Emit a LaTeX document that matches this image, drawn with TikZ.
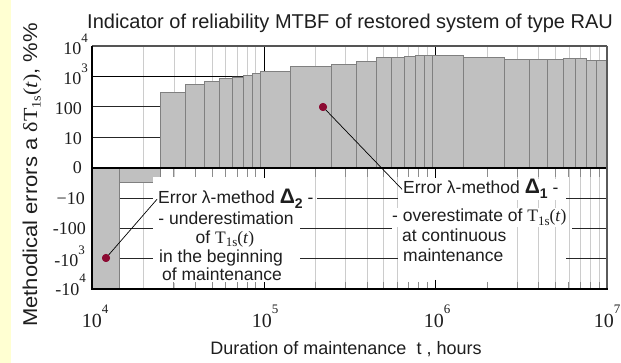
\documentclass[tikz,border=0pt]{standalone}
\usepackage{fontspec}
\setmainfont{Liberation Sans}
\newfontfamily\serif{Liberation Serif}
\newcommand{\fsz}[1]{\fontsize{#1}{#1}\selectfont}
\newcommand{\sups}[1]{\raisebox{0.7em}{\fsz{13}#1}}
\newcommand{\Tss}{{\serif T\raisebox{-3.5pt}{\fsz{13}1s}(\textit{t})}}
\definecolor{gridgray}{HTML}{CCCCCC}
\definecolor{bargray}{HTML}{C0C0C0}
\definecolor{baredge}{HTML}{808080}
\definecolor{tickgray}{HTML}{8C8C8C}
\definecolor{dotred}{HTML}{8C0A32}
\definecolor{ystrip}{HTML}{FFFFD2}
\definecolor{txt}{HTML}{1E1E1E}
\definecolor{topframe}{HTML}{555555}
\begin{document}
\begin{tikzpicture}[x=1pt,y=-1pt,
  grid/.style={draw=gridgray, line width=0.8pt},
  bar/.style={fill=bargray, draw=baredge, line width=0.9pt},
  hline/.style={draw=black!85, line width=1pt},
  tickm/.style={draw=tickgray, line width=0.9pt},
  tickd/.style={draw=black, line width=1pt},
  lbl/.style={font=\fsz{17.5}, inner sep=1pt, text=txt},
  wlbl/.style={lbl, fill=white},
  ylab/.style={font=\serif\fsz{18}, inner sep=0pt, anchor=base east, text=txt},
  xlab/.style={font=\serif\fsz{20}, inner sep=0pt, anchor=base, text=txt},
  dot/.style={circle, fill=dotred, inner sep=0pt, minimum size=8pt},
  conn/.style={draw=black, line width=0.7pt}]
\useasboundingbox (0,0) rectangle (621,363);
\fill[white] (0,0) rectangle (621,363);
\fill[ystrip] (0,0) rectangle (11,363);
% vertical gridlines
\foreach \d in {0,1,2}{\foreach \m in {2,...,9}{%
  \pgfmathsetmacro\xx{92+171.67*(\d+log10(\m))}
  \draw[grid] (\xx,46) -- (\xx,289);}}
% decade lines in the positive part
\draw[tickd] (264,46) -- (264,168);
\draw[tickd] (435,46) -- (435,168);
% horizontal lines, positive part
\foreach \yy in {77,107,138} \draw[hline] (92,\yy) -- (607,\yy);
% horizontal lines, negative part
\draw[hline] (92,199) -- (155,199) (317,199) -- (398,199) (566,199) -- (607,199);
\draw[hline] (92,229) -- (155,229) (300,229) -- (392,229) (572,229) -- (607,229);
\draw[hline] (92,259) -- (155,259) (300,259) -- (398,259) (566,259) -- (607,259);
% positive bars
\foreach \a/\b/\t in {160/185/92.7, 185/204.3/84.7, 204.3/219.3/81, 219.3/232/78.3,
  232/243.3/77, 243.3/252.7/75.7, 252.7/260/73, 260/290.3/71.3, 290.3/331.7/66.7,
  331.7/356.7/64, 356.7/376/61, 376/391/57.7, 391/404/57, 404/415/56.3,
  415/424.3/55.7, 424.3/432.7/55.7, 432.7/463.3/55, 463.3/504/57.7,
  504/529.3/59, 529.3/547.3/59, 547.3/563.3/59, 563.3/575.3/58.7,
  575.3/586/58.7, 586/596/60.3, 596/607/60.3}
  \draw[bar] (\a,168) rectangle (\b,\t);
\draw[tickd] (92,77) -- (232,77);
% negative bars
\draw[bar] (92,168) rectangle (119,289);
\draw[bar] (119,168) rectangle (160,182);
% white areas behind the two notes
\fill[white] (153,177) rectangle (300,283);
\fill[white] (398,177) rectangle (505,283);
% ticks at the zero line and at the bottom
\foreach \d in {0,1,2}{\foreach \m in {2,...,9}{%
  \pgfmathsetmacro\xx{92+171.67*(\d+log10(\m))}
  \ifnum\d=0 \ifnum\m=2 \else \draw[tickm] (\xx,168) -- (\xx,177); \draw[tickm] (\xx,282) -- (\xx,289);\fi
  \else \draw[tickm] (\xx,168) -- (\xx,177); \draw[tickm] (\xx,282) -- (\xx,289);\fi}}
\draw[tickd] (264,168) -- (264,178) (264,280) -- (264,289);
\draw[tickd] (435,168) -- (435,178) (435,280) -- (435,289);
% zero line and frame
\draw[black, line width=1.6pt] (92,168) -- (607,168);
\draw[topframe, line width=1.4pt] (92,46) -- (607,46);
\draw[baredge!70!black, line width=1.2pt] (607,46) -- (607,289);
\draw[black, line width=1.5pt] (92,46) -- (92,289.7);
\draw[black, line width=1.5pt] (91.3,289) -- (607.6,289);
% note 1
\node[wlbl, anchor=base west] (b1l1) at (157,204) {Error λ-method {\bfseries\fsz{21}Δ\raisebox{-5pt}{\fsz{14}2}} -};
\node[wlbl, anchor=base] (b1l2) at (226,225) {- underestimation};
\node[wlbl, anchor=base] (b1l3) at (225,243.5) {of \Tss};
\node[wlbl, anchor=base] (b1l4) at (221,263) {in the beginning};
\node[wlbl, anchor=base] (b1l5) at (222,280.5) {of maintenance};
% note 2
\node[wlbl, anchor=base west] (b2l1) at (402,194) {Error λ-method {\bfseries\fsz{21}Δ\raisebox{-5pt}{\fsz{14}1}} -};
\node[wlbl, anchor=base west] (b2l2) at (391,222) {- overestimate of \Tss};
\node[wlbl, anchor=base west] (b2l3) at (401,242) {at continuous};
\node[wlbl, anchor=base west] (b2l4) at (402,262) {maintenance};
% markers and leaders
\node[dot] (d1) at (323,107) {};
\node[dot] (d2) at (106,258) {};
\draw[conn] (d1.center) -- (b2l1.west);
\draw[conn] (d2.center) -- (b1l1.west);
\node[dot] at (d1) {};
\node[dot] at (d2) {};
% y tick labels
\node[ylab] (y4) at (88,55) {10\sups{4}};
\node[ylab] (y3) at (88,85) {10\sups{3}};
\node[ylab] (y2) at (82,115) {100};
\node[ylab] (y1) at (82,145) {10};
\node[ylab] (y0) at (82,174) {0};
\node[ylab] (ym1) at (85,205) {−10};
\node[ylab] (ym2) at (86,235) {-100};
\node[ylab] (ym3) at (85,267) {-10\sups{3}};
\node[ylab] (ym4) at (86,295) {-10\sups{4}};
% x tick labels
\node[xlab] (x4) at (95,327) {10\sups{4}};
\node[xlab] (x5) at (265,327) {10\sups{5}};
\node[xlab] (x6) at (437,327) {10\sups{6}};
\node[xlab] (x7) at (607,327) {10\sups{7}};
% axis titles
\node[font=\fsz{18}, text=txt, anchor=base, inner sep=0pt] (xt) at (346,354) {Duration of maintenance \ t , hours};
\node[font=\fsz{20}, text=txt, anchor=base, inner sep=0pt, rotate=90] (yt) at (37,175) {\scalebox{1.1}[1]{Methodical errors a {\serif δ}\Tss, \%\%}};
\node[font=\fsz{20}, text=txt, anchor=base west, inner sep=0pt] (title) at (87,29) {Indicator of reliability MTBF of restored system of type RAU};
\end{tikzpicture}
\end{document}
